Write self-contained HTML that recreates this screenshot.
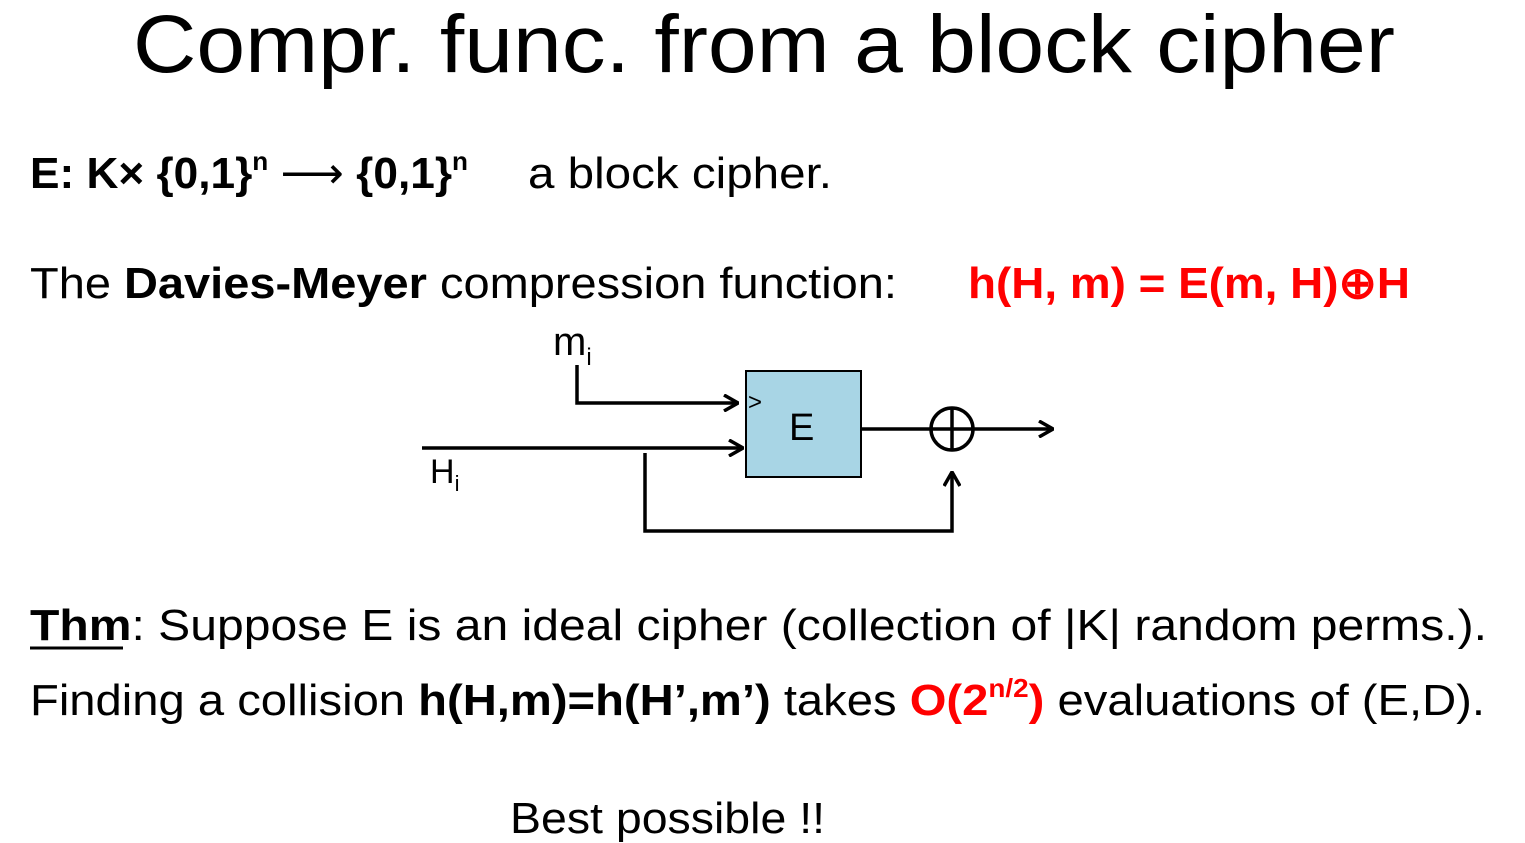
<!DOCTYPE html>
<html><head><meta charset="utf-8"><style>
html,body{margin:0;padding:0;background:#fff;}
svg{display:block;font-family:"Liberation Sans",sans-serif;}
</style></head><body>
<svg width="1525" height="843" viewBox="0 0 1525 843">
<defs>
<marker id="ar" markerWidth="16" markerHeight="18" refX="15" refY="9" orient="auto" markerUnits="userSpaceOnUse">
<path d="M1,1 L15,9 L1,17" fill="none" stroke="#000" stroke-width="3.5"/></marker>
</defs>
<text x="133" y="72" font-size="82" textLength="1262" lengthAdjust="spacingAndGlyphs">Compr. func. from a block cipher</text>

<g font-size="44">
<text x="30" y="188" textLength="438" lengthAdjust="spacingAndGlyphs"><tspan font-weight="bold">E: K×</tspan> <tspan font-weight="bold">{0,1}</tspan><tspan font-size="26" dy="-18" font-weight="bold">n</tspan><tspan dy="18"> ⟶ </tspan><tspan font-weight="bold">{0,1}</tspan><tspan font-size="26" dy="-18" font-weight="bold">n</tspan></text>
<text x="528" y="188" textLength="304" lengthAdjust="spacingAndGlyphs">a block cipher.</text>
</g>

<g font-size="44">
<text x="30" y="298" textLength="867" lengthAdjust="spacingAndGlyphs">The <tspan font-weight="bold">Davies-Meyer</tspan> compression function:</text>
<text x="968" y="298" fill="#f00" font-weight="bold" textLength="442" lengthAdjust="spacingAndGlyphs">h(H, m) = E(m, H)⊕H</text>
</g>

<g stroke="#000" stroke-width="3.5" fill="none">
<text x="553" y="355" font-size="40" fill="#000" stroke="none">m<tspan font-size="24" dy="10">i</tspan></text>
<polyline points="577,365 577,403 738,403" marker-end="url(#ar)"/>
<rect x="746" y="371" width="115" height="106" fill="#a8d5e5" stroke="#000" stroke-width="2"/>
<text x="748" y="410" font-size="24" fill="#000" stroke="none">&gt;</text>
<text x="789" y="440" font-size="38" fill="#000" stroke="none">E</text>
<line x1="422" y1="448" x2="743" y2="448" marker-end="url(#ar)"/>
<text x="430" y="483" font-size="34" fill="#000" stroke="none">H<tspan font-size="22" dy="8">i</tspan></text>
<polyline points="645,453 645,531 952,531 952,472" marker-end="url(#ar)"/>
<line x1="861" y1="429" x2="1053" y2="429" marker-end="url(#ar)"/>
<circle cx="952" cy="429" r="21"/>
<line x1="952" y1="408" x2="952" y2="450"/>
</g>

<g font-size="44">
<text x="30" y="640" textLength="1457" lengthAdjust="spacingAndGlyphs"><tspan font-weight="bold">Thm</tspan>:   Suppose E is an ideal cipher (collection of |K| random perms.).</text>
<line x1="30" y1="648" x2="123" y2="648" stroke="#000" stroke-width="3"/>
<text x="30" y="715" textLength="1455" lengthAdjust="spacingAndGlyphs">Finding a collision <tspan font-weight="bold">h(H,m)=h(H’,m’)</tspan>  takes <tspan fill="#f00" font-weight="bold">O(2<tspan font-size="26" dy="-18">n/2</tspan><tspan dy="18">)</tspan></tspan> evaluations of (E,D).</text>
</g>
<text x="510" y="833" font-size="44" textLength="315" lengthAdjust="spacingAndGlyphs">Best possible !!</text>
</svg>
</body></html>
